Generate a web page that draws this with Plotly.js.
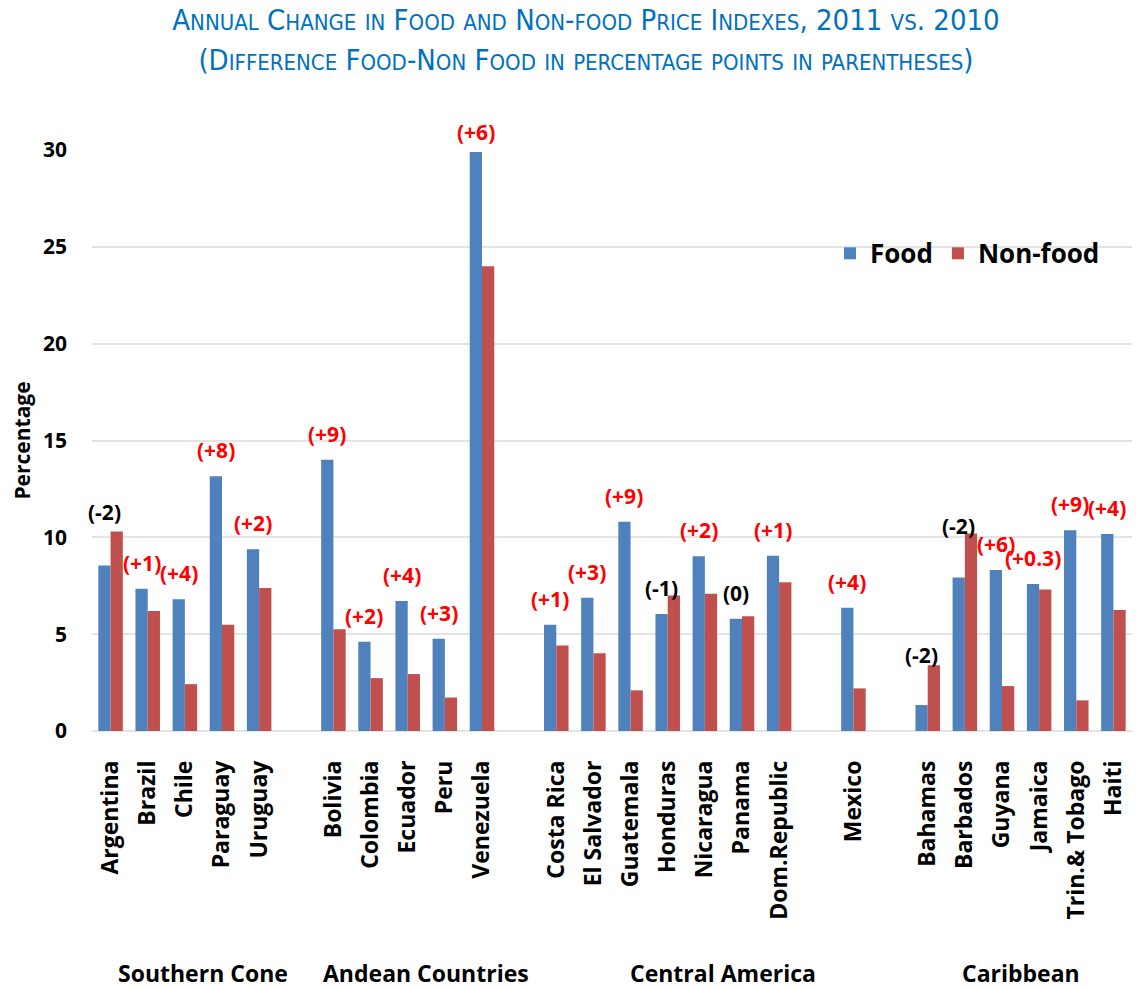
<!DOCTYPE html>
<html><head><meta charset="utf-8">
<script src="https://cdn.plot.ly/plotly-3.0.1.min.js"></script>
<style>html,body{margin:0;padding:0;background:#fff}#chart{width:1140px;height:989px}</style>
</head><body><div id="chart"></div>
<script>
// ---- data ----
const groupNames = ["Southern Cone", "Andean Countries", "Central America", "Caribbean"];
const categories = ["Argentina","Brazil","Chile","Paraguay","Uruguay","",
  "Bolivia","Colombia","Ecuador","Peru","Venezuela","",
  "Costa Rica","El Salvador","Guatemala","Honduras","Nicaragua","Panama","Dom.Republic","","Mexico","",
  "Bahamas","Barbados","Guyana","Jamaica","Trin.& Tobago","Haiti"];
const categoryGroup = [0,0,0,0,0,0, 1,1,1,1,1,1, 2,2,2,2,2,2,2,2,2,2, 3,3,3,3,3,3];
const food = [8.55,7.34,6.8,13.16,9.39,null, 14.0,4.61,6.71,4.76,29.9,null,
  5.49,6.88,10.81,6.04,9.02,5.8,9.05,null,6.37,null, 1.34,7.92,8.31,7.59,10.36,10.17];
const nonFood = [10.3,6.19,2.42,5.48,7.38,null, 5.26,2.73,2.94,1.73,24.0,null,
  4.42,4.01,2.10,7.0,7.09,5.92,7.68,null,2.2,null, 3.39,10.2,2.32,7.31,1.58,6.25];
const diffLabels = ["(-2)","(+1)","(+4)","(+8)","(+2)","", "(+9)","(+2)","(+4)","(+3)","(+6)","",
  "(+1)","(+3)","(+9)","(-1)","(+2)","(0)","(+1)","","(+4)","", "(-2)","(-2)","(+6)","(+0.3)","(+9)","(+4)"];
const titleLine1 = "Annual Change in Food and Non-food Price Indexes, 2011 vs. 2010";
const titleLine2 = "(Difference Food-Non Food in percentage points in parentheses)";

// ---- style ----
const BLUE = "#4F81BD", RED = "#C0504D";
const FONT = "'Open Sans', Lato, sans-serif";
const TITLE_FONT = "'Liberation Sans Narrow', 'DejaVu Sans Condensed', 'Roboto Condensed', sans-serif";
const BARGAP = 0.34;
const labelShift = {Argentina: 53, Venezuela: 20, Bahamas: 50, Barbados: 52};
const DEFAULT_SHIFT = 26;

function smallCaps(s, big, small) {
  let out = "", run = "", runLower = null;
  const flush = () => {
    if (run) out += '<span style="font-size:' + (runLower ? small : big) + 'px">' + run + '</span>';
    run = "";
  };
  for (const ch of s) {
    const lower = ch !== ch.toUpperCase();
    if (runLower !== null && lower !== runLower) flush();
    runLower = lower;
    run += lower ? ch.toUpperCase() : ch;
  }
  flush();
  return out;
}

const xs = categories.map((_, i) => i);
const tickIdx = xs.filter(i => categories[i] !== "");

const traces = [
  {type: "bar", name: "Food", x: xs, y: food, marker: {color: BLUE}, hoverinfo: "x+y"},
  {type: "bar", name: "Non-food", x: xs, y: nonFood, marker: {color: RED}, hoverinfo: "x+y"}
];

const annotations = [];
xs.forEach(i => {
  if (!diffLabels[i]) return;
  const name = categories[i];
  annotations.push({
    xref: "x", yref: "y", x: i - (1 - BARGAP) / 4, y: food[i],
    yshift: (labelShift[name] !== undefined ? labelShift[name] : DEFAULT_SHIFT),
    yanchor: "middle", xanchor: "center", showarrow: false,
    text: diffLabels[i],
    font: {family: FONT, size: 21, weight: 700, color: diffLabels[i].startsWith("(+") ? "#FF0000" : "#000000"}
  });
});
groupNames.forEach((g, gi) => {
  const idx = xs.filter(i => categoryGroup[i] === gi);
  const center = (Math.min(...idx) + Math.max(...idx)) / 2;
  annotations.push({
    xref: "x", yref: "paper", x: center, y: -0.416, yanchor: "middle", xanchor: "center",
    showarrow: false, text: g,
    font: {family: FONT, size: 23, weight: 700, color: "#000"}
  });
});

const layout = {
  width: 1140, height: 989,
  paper_bgcolor: "#fff", plot_bgcolor: "#fff",
  margin: {l: 92, r: 8, t: 150, b: 258},
  barmode: "group", bargap: BARGAP, bargroupgap: 0,
  title: {
    text: smallCaps(titleLine1, 29, 22) + "<br>" + smallCaps(titleLine2, 29, 22),
    font: {family: TITLE_FONT, size: 31, color: "#0070C0"},
    x: 0.514, xref: "container", xanchor: "center",
    y: 0.97, yref: "container", yanchor: "top"
  },
  xaxis: {
    type: "linear", range: [-0.5, categories.length - 0.5],
    tickvals: tickIdx, ticktext: tickIdx.map(i => categories[i]),
    tickangle: -90, ticks: "", showgrid: false, zeroline: false, showline: false,
    ticklabelstandoff: 24,
    tickfont: {family: FONT, size: 23, weight: 700, color: "#000"}
  },
  yaxis: {
    range: [0, 30], dtick: 5, tick0: 0,
    gridcolor: "#E4E4E4", gridwidth: 1.5, zeroline: true, zerolinecolor: "#E4E4E4", zerolinewidth: 1.5,
    showline: false, ticks: "", ticklabelstandoff: 24,
    tickfont: {family: FONT, size: 21, weight: 700, color: "#000"},
    title: {text: "Percentage", standoff: 6, font: {family: FONT, size: 21, weight: 700, color: "#000"}}
  },
  showlegend: true,
  legend: {
    orientation: "h", x: 0.7096, xanchor: "left", y: 0.822, yanchor: "middle",
    bgcolor: "rgba(0,0,0,0)", font: {family: FONT, size: 26, weight: 700, color: "#000"}
  },
  annotations: annotations
};

Plotly.newPlot("chart", traces, layout, {displayModeBar: false, responsive: false});
</script>
</body></html>
